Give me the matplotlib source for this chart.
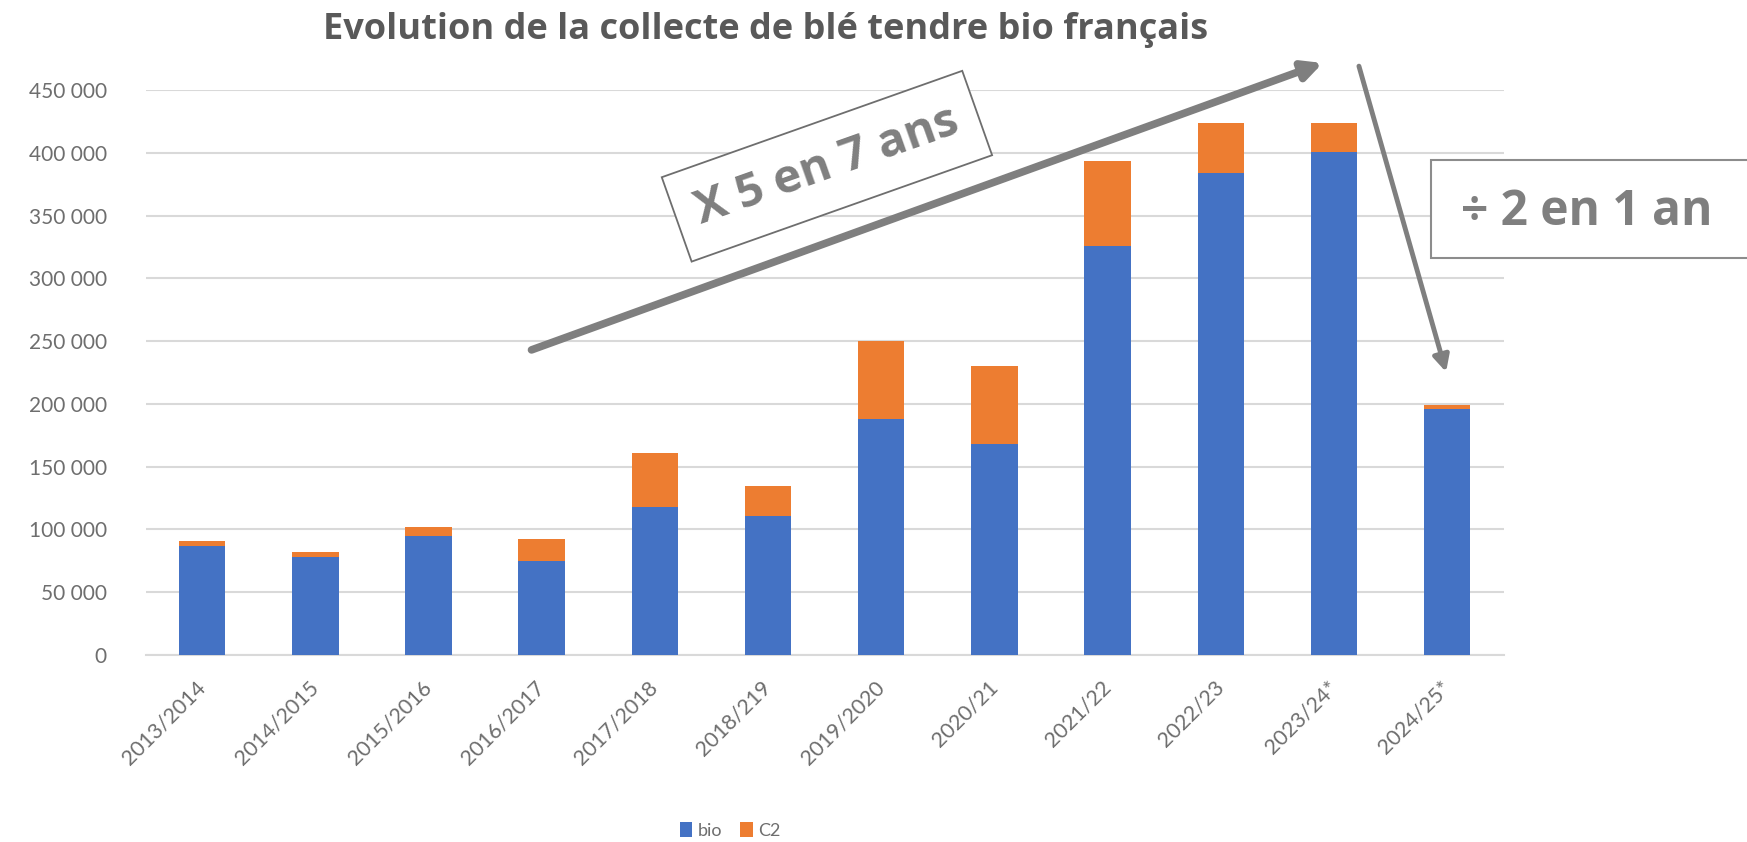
"""
Evolution de la collecte de blé tendre bio français (bio + C2), barres empilées.
Output: out.png
"""

import matplotlib
matplotlib.use("Agg")

import numpy as np
import matplotlib.pyplot as plt
from matplotlib.patches import Rectangle
from matplotlib.ticker import FuncFormatter, MultipleLocator

# ---------------------------------------------------------------------------
# Data (tonnes)
# ---------------------------------------------------------------------------
campagnes = ["2013/2014", "2014/2015", "2015/2016", "2016/2017", "2017/2018",
             "2018/219", "2019/2020", "2020/21", "2021/22", "2022/23",
             "2023/24*", "2024/25*"]
bio = [86600, 77800, 95100, 75000, 117900, 110500,
       187900, 168000, 325900, 383800, 400600, 196000]
c2 = [4100, 4100, 6600, 17700, 42900, 24100,
      62000, 62000, 67700, 39700, 22900, 3400]

C_BIO  = "#4472C4"
C_C2   = "#ED7D31"
C_GRID = "#D9D9D9"
C_TXT  = "#595959"
C_TICK = "#6E6E6E"
C_ANN  = "#7F7F7F"

FONT = ["Lato", "DejaVu Sans"]
FONT_ANN = ["Open Sans", "DejaVu Sans"]
plt.rcParams["font.family"] = FONT


def fmt_milliers(v, _pos):
    return f"{v:,.0f}".replace(",", " ")


def main():
    fig = plt.figure(figsize=(17.47, 8.42), dpi=100, facecolor="white")
    ax = fig.add_axes([0.0833, 0.2221, 0.7775, 0.6710])

    x = np.arange(len(campagnes))
    ax.bar(x, bio, width=0.41, color=C_BIO, label="bio", zorder=3)
    ax.bar(x, c2, width=0.41, bottom=bio, color=C_C2, label="C2", zorder=3)

    ax.set_xlim(-0.5, len(campagnes) - 0.5)
    ax.set_ylim(0, 450000)
    ax.yaxis.set_major_locator(MultipleLocator(50000))
    ax.yaxis.set_major_formatter(FuncFormatter(fmt_milliers))
    ax.grid(True, axis="y", color=C_GRID, linewidth=1.5, zorder=0)

    for side in ("top", "right", "left"):
        ax.spines[side].set_visible(False)
    ax.spines["bottom"].set_color(C_GRID)
    ax.spines["bottom"].set_linewidth(1.5)

    ax.tick_params(axis="y", length=0, pad=28, labelsize=15, labelcolor=C_TICK)
    ax.tick_params(axis="x", length=0, pad=21, labelsize=15.5, labelcolor=C_TICK)
    ax.set_xticks(x)
    ax.set_xticklabels(campagnes, rotation=45, ha="right", va="center",
                       rotation_mode="anchor")

    # Title
    fig.text(0.438, 0.964, "Evolution de la collecte de blé tendre bio français",
             ha="center", va="center", fontsize=26, fontweight="bold",
             color=C_TXT, family=FONT_ANN)

    # Legend
    fig.legend(loc="center", bbox_to_anchor=(0.418, 0.014), ncol=2, frameon=False,
               fontsize=13, labelcolor=C_TICK, handlelength=0.7, handleheight=0.9,
               handletextpad=0.3, columnspacing=1.0)

    # Flèche montante "X 5 en 7 ans"
    ax.annotate("", xy=(9.90, 471500), xytext=(2.91, 243000),
                arrowprops=dict(arrowstyle="-|>", color=C_ANN, lw=5.5,
                                mutation_scale=28, shrinkA=0, shrinkB=0),
                annotation_clip=False, zorder=5)
    ax.text(5.52, 389300, "X 5 en 7 ans", rotation=19.5, rotation_mode="anchor",
            ha="center", va="center", fontsize=34, fontweight="bold", color=C_ANN,
            family=FONT_ANN,
            bbox=dict(boxstyle="square,pad=0.45", facecolor="white",
                      edgecolor="#6E6E6E", linewidth=1.3),
            zorder=6)

    # Flèche descendante "÷ 2 en 1 an"
    ax.annotate("", xy=(10.99, 225400), xytext=(10.22, 469000),
                arrowprops=dict(arrowstyle="-|>", color=C_ANN, lw=3.5,
                                mutation_scale=24, shrinkA=0, shrinkB=0),
                annotation_clip=False, zorder=5)
    fig.patches.append(Rectangle((0.819, 0.6936), 0.3, 0.1164,
                                 transform=fig.transFigure, facecolor="white",
                                 edgecolor="#8C8C8C", linewidth=1.5, zorder=4))
    fig.text(0.8363, 0.748, "÷ 2 en 1 an", ha="left", va="center",
             fontsize=34.5, fontweight="bold", color=C_ANN, family=FONT_ANN,
             zorder=6)

    fig.savefig("out.png", dpi=100, facecolor="white")
    plt.close(fig)


if __name__ == "__main__":
    main()
